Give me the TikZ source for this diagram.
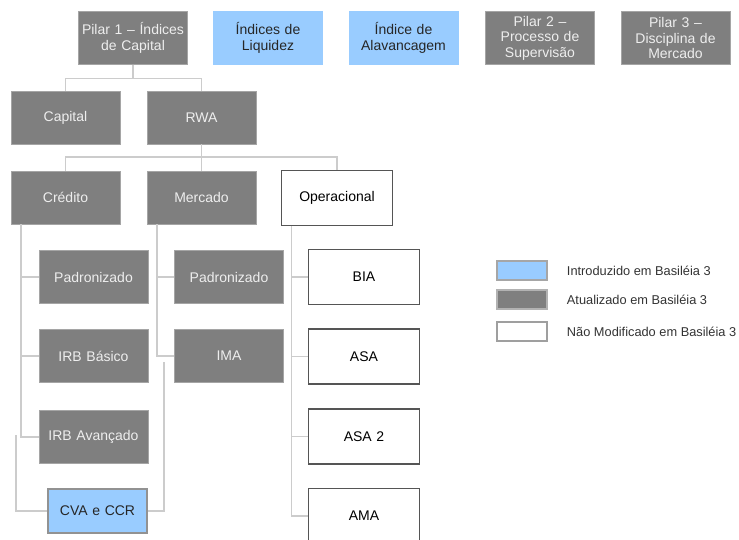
\documentclass[tikz,border=0pt]{standalone}
\usepackage{fontspec}
\setmainfont{Liberation Sans}
\usepackage{tikz}
\usetikzlibrary{positioning}
\usepackage{xcolor}
\definecolor{bsgray}{RGB}{127,127,127}
\definecolor{bsgrayline}{RGB}{165,165,165}
\definecolor{bslight}{RGB}{238,238,238}
\definecolor{bsblue}{RGB}{153,204,255}
\definecolor{bsdark}{RGB}{85,85,85}
\definecolor{bsline}{RGB}{204,204,204}
\newcommand{\boxfont}{\fontsize{14}{15.5}\selectfont}
\newcommand{\legfont}{\fontsize{12.8}{14}\selectfont}
\tikzstyle{branch} = [line width=1.5pt, color=bsline]
\tikzstyle{updated} = [rectangle, minimum width=109pt, minimum height=53pt, inner sep=1pt, text width=107pt, align=center, fill=bsgray, draw=bsgrayline, thin, text=bslight, font=\boxfont]
\tikzstyle{introduced} = [updated, fill=bsblue, draw=bsblue, text=black!85]
\tikzstyle{unchanged} = [updated, minimum width=111pt, minimum height=55pt, fill=white, draw=bsdark, line width=1.6pt, text=black]
\tikzstyle{legendbox} = [rectangle, minimum width=50pt, minimum height=19pt, inner sep=0pt, line width=1.5pt]
\tikzstyle{legendtext} = [inner sep=0pt, anchor=west, font=\legfont, text=black!80]

\begin{document}
\begin{tikzpicture}[x=1pt, y=-1pt]
\useasboundingbox (0,0) rectangle (739,540);
% Pillars and new indices
\node (pilar1) [updated] at (133,38) {Pilar 1 -- Índices\\de Capital};
\node (liquidez) [introduced] at (268,38) {Índices de\\Liquidez};
\node (alavanc) [introduced] at (403.5,38) {Índice de\\Alavancagem};
\node (pilar2) [updated] at (540,38) {Pilar 2 --\\Processo de\\Supervisão};
\node (pilar3) [updated] at (675.5,38) {Pilar 3 --\\Disciplina de\\Mercado};

% Capital and RWA
\node (capital) [updated] at (65.5,117.5) {Capital};
\node (rwa) [updated] at (201.5,117.5) {RWA};
\draw[branch] (pilar1.south) -- ++(0,14) -| (capital.north);
\draw[branch] (pilar1.south) -- ++(0,14) -| (rwa.north);

% Risk types
\node (credito) [updated] at (65.5,197.5) {Crédito};
\node (mercado) [updated] at (201.5,197.5) {Mercado};
\node (operac) [unchanged] at (337,198) {Operacional};
\draw[branch] (rwa.south) -- ++(0,13) -| (credito.north);
\draw[branch] (rwa.south) -- ++(0,13) -| (mercado.north);
\draw[branch] (rwa.south) -- ++(0,13) -| (operac.north);

% Credit approaches
\node (padcred) [updated] at (93.5,277) {Padronizado};
\node (irbbas) [updated] at (93.5,356) {IRB Básico};
\node (irbav) [updated] at (93.5,437) {IRB Avançado};
\node (cva) [introduced, minimum width=99pt, minimum height=44pt, text width=96pt, draw=bsgray!85, line width=1.5pt] at (97.5,511) {CVA e CCR};
\draw[branch] ([xshift=10pt]credito.south west) |- (padcred.west);
\draw[branch] ([xshift=10pt]credito.south west) |- (irbbas.west);
\draw[branch] ([xshift=10pt]credito.south west) |- (irbav.west);

% Market approaches
\node (padmerc) [updated] at (229,277) {Padronizado};
\node (ima) [updated] at (229,356) {IMA};
\draw[branch] ([xshift=10pt]mercado.south west) |- (padmerc.west);
\draw[branch] ([xshift=10pt]mercado.south west) |- (ima.west);

% CVA tails
\coordinate (credtail) at (16,435);
\coordinate (merctail) at (164,362);
\draw[branch] (credtail) |- (cva.west);
\draw[branch] (merctail) |- (cva.east);

% Operational approaches
\node (bia) [unchanged] at (364,277) {BIA};
\node (asa) [unchanged] at (364,356.5) {ASA};
\node (asa2) [unchanged] at (364,436.5) {ASA 2};
\node (ama) [unchanged] at (364,516) {AMA};
\draw[branch] ([xshift=11pt]operac.south west) |- (bia.west);
\draw[branch] ([xshift=11pt]operac.south west) |- (asa.west);
\draw[branch] ([xshift=11pt]operac.south west) |- (asa2.west);
\draw[branch] ([xshift=11pt]operac.south west) |- (ama.west);

% Legend
\node (legintro) [legendbox, fill=bsblue, draw=gray!70] at (522,270.5) {};
\node (legupd) [legendbox, fill=bsgray, draw=gray!60] at (522,299.5) {};
\node (legkeep) [legendbox, fill=white, draw=gray!75] at (522,331.5) {};
\node (txtintro) [legendtext, right=19pt of legintro] {Introduzido em Basiléia 3};
\node (txtupd) [legendtext, right=19pt of legupd] {Atualizado em Basiléia 3};
\node (txtkeep) [legendtext, right=19pt of legkeep] {Não Modificado em Basiléia 3};
\end{tikzpicture}
\end{document}
